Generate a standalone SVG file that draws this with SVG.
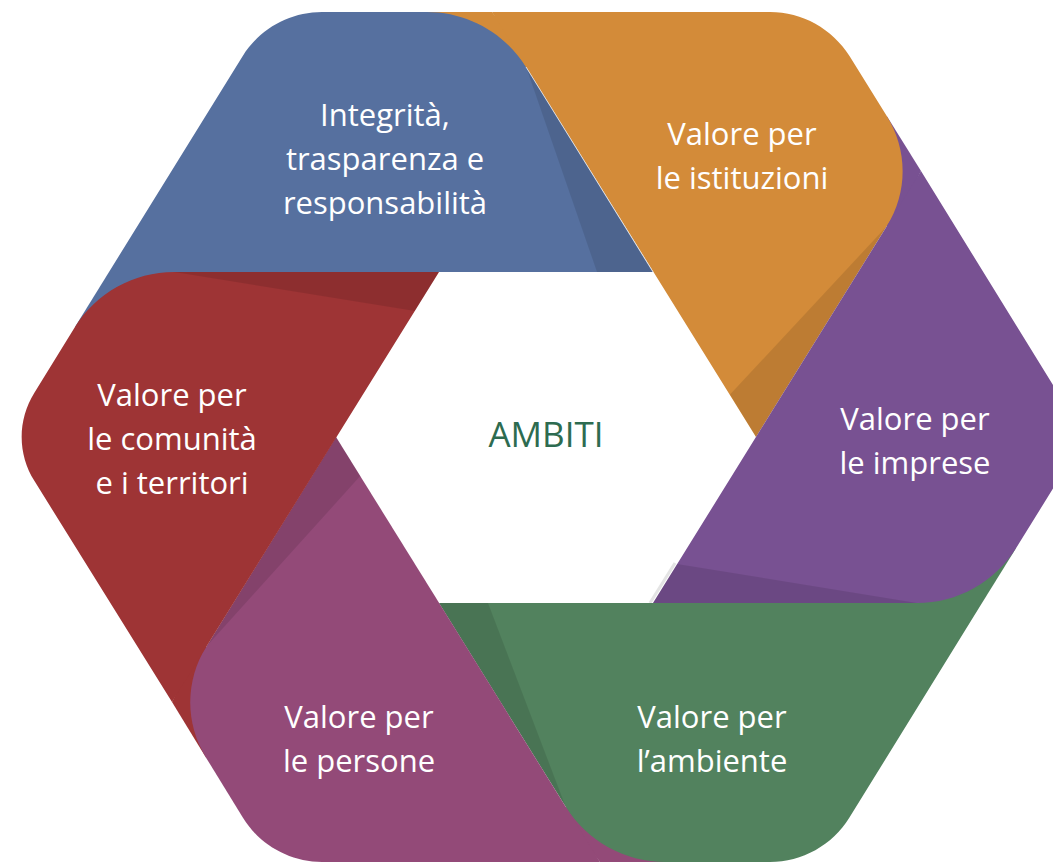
<svg xmlns="http://www.w3.org/2000/svg" width="1053" height="862" viewBox="0 0 1053 862">
  <style>
    .lbl { font-family: "Open Sans", "Liberation Sans", sans-serif; font-size: 31px; fill: #ffffff; text-anchor: middle; }
    .center { font-family: "Open Sans", "Liberation Sans", sans-serif; font-size: 35px; fill: #2D6B50; text-anchor: middle; }
    .shade { fill: #000000; fill-opacity: 0.1; }
    .blue { fill: #56709F; }
    .orange { fill: #D38B39; }
    .purple { fill: #785192; }
    .green { fill: #52825E; }
    .magenta { fill: #934A78; }
    .red { fill: #9E3435; }
  </style>
  <rect width="1053" height="862" fill="#ffffff"/>

  <!-- under-layers filling the rounded end corners with the next segment's colour -->
  <g id="underlayers">
    <polygon class="orange" points="427,12 492,12 531.3,64.1 526.2,67.3"/>
    <polygon class="purple" points="886.6,115.8 921,171 891.8,229.5 886.7,226.3"/>
    <polygon class="green" points="1016.3,547.7 982,603 917,609 917,603"/>
    <polygon class="magenta" points="665,862 600,862 560.6,810 565.7,806.8"/>
    <polygon class="red" points="205.9,757.4 172,702 201.1,643.5 206.2,646.7"/>
    <polygon class="blue" points="74.8,327.3 109,272 174,266 174,272"/>
  </g>

  <line x1="675" y1="563" x2="650" y2="603" stroke="#e4e4e4" stroke-width="3"/>

  <g id="blue-segment">
    <path class="blue" d="M653,272 L109,272 L242.6,56.2 C259.6,28.8 289.8,12 322,12 L427,12 C467.3,12 505,33 526.2,67.3 Z"/>
    <polygon class="shade" points="653,272 597,272 526.2,67.3"/>
    <text class="lbl" x="385" y="126">Integrità,</text>
    <text class="lbl" x="385" y="170">trasparenza e</text>
    <text class="lbl" x="385" y="214">responsabilità</text>
  </g>

  <g id="orange-segment">
    <path class="orange" d="M756,437 L492,12 L770,12 C802.2,12 832.5,28.8 849.5,56.1 L886.6,115.8 C907.9,150 908,192 886.7,226.3 Z"/>
    <polygon class="shade" points="756,437 730,394.5 886.7,226.3"/>
    <line x1="526" y1="67" x2="653" y2="272" stroke="#e8ecf2" stroke-width="1" stroke-opacity="0.7"/>
    <text class="lbl" x="742" y="145">Valore per</text>
    <text class="lbl" x="742" y="189">le istituzioni</text>
  </g>

  <g id="purple-segment">
    <path class="purple" d="M653,603 L921,171 L1057.7,392.7 C1074.6,420.2 1074.6,453.8 1057.6,481.2 L1016.3,547.7 C995,582 957.3,603 917,603 Z"/>
    <polygon class="shade" points="653,603 677.2,563.9 917,603"/>
    <text class="lbl" x="915" y="430">Valore per</text>
    <text class="lbl" x="915" y="474">le imprese</text>
  </g>

  <g id="green-segment">
    <path class="green" d="M439,603 L982,603 L849.3,817.8 C832.4,845.2 802.2,862 770,862 L665,862 C624.7,862 587,841 565.7,806.8 Z"/>
    <polygon class="shade" points="439,603 488,603 565.7,806.8"/>
    <text class="lbl" x="712" y="728">Valore per</text>
    <text class="lbl" x="712" y="772">l’ambiente</text>
  </g>

  <g id="magenta-segment">
    <path class="magenta" d="M336,437 L600,862 L322,862 C289.8,862 259.7,845.1 242.8,817.6 L205.9,757.4 C184.9,723.1 185,681 206.2,646.7 Z"/>
    <polygon class="shade" points="336,437 360.2,476.1 206.2,646.7"/>
    <text class="lbl" x="359" y="728">Valore per</text>
    <text class="lbl" x="359" y="772">le persone</text>
  </g>

  <g id="red-segment">
    <path class="red" d="M439,272 L172,702 L34.5,481.1 C17.4,453.8 17.4,420.2 34.4,392.7 L74.8,327.3 C96,293 133.7,272 174,272 Z"/>
    <polygon class="shade" points="439,272 174,272 414.8,311.1"/>
    <text class="lbl" x="172" y="406">Valore per</text>
    <text class="lbl" x="172" y="450">le comunità</text>
    <text class="lbl" x="172" y="494">e i territori</text>
  </g>

  <g id="center-node">
    <text class="center" x="546" y="447">AMBITI</text>
  </g>

  <g id="connectors"></g>
</svg>
